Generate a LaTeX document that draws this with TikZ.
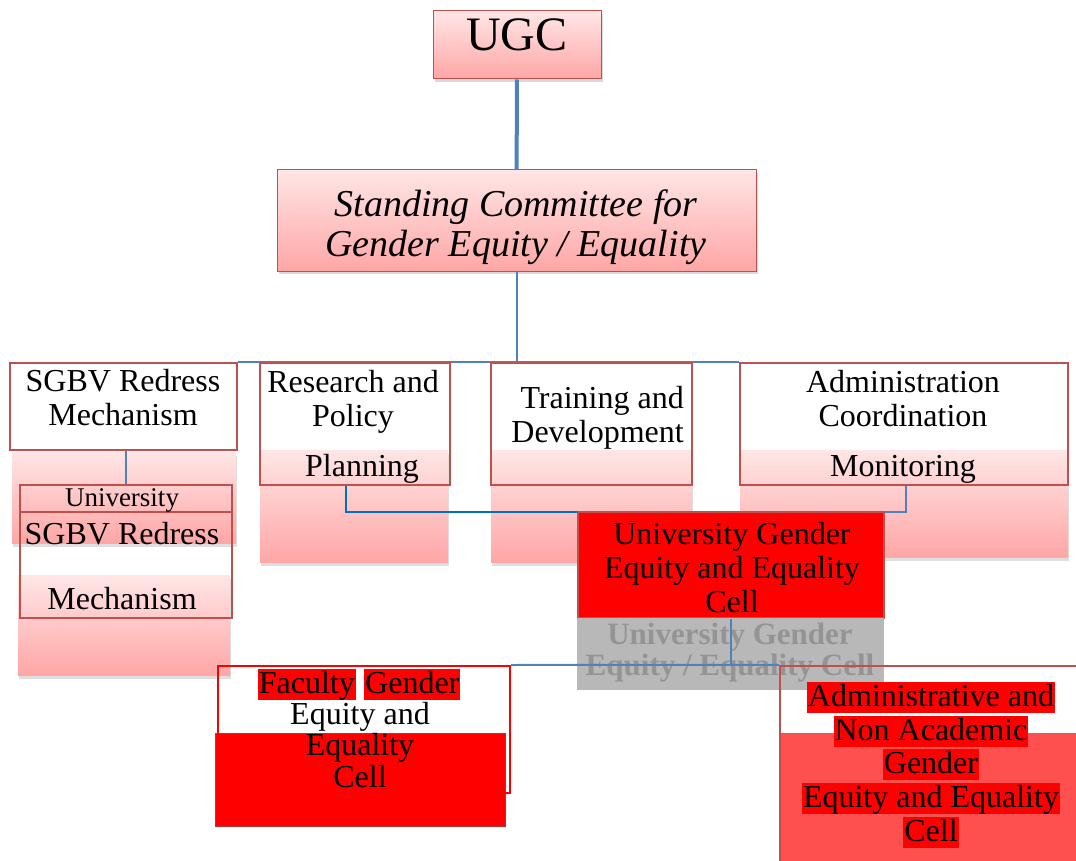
\documentclass[tikz,border=0pt]{standalone}
\usepackage{fontspec}
\setmainfont{Liberation Serif}
\usetikzlibrary{shadows,backgrounds}

\definecolor{accent}{HTML}{C0504D}
\definecolor{linkblue}{HTML}{4F81BD}
\definecolor{brightblue}{HTML}{0070C0}
\definecolor{pinktop}{HTML}{FFE6E6}
\definecolor{pinkbot}{HTML}{FFA6A6}
\definecolor{cellred}{HTML}{FF0000}
\definecolor{softred}{HTML}{FF5050}
\definecolor{ghostfill}{HTML}{B8B8B8}
\definecolor{ghosttext}{HTML}{949494}

\newcommand{\cellfont}{\fontsize{32}{34}\selectfont}

\begin{document}
\begin{tikzpicture}[x=1pt, y=-1pt,
    sized/.style 2 args={minimum width=#1pt, minimum height=#2pt, inner sep=0pt},
    pinkbox/.style={draw=accent, line width=1pt, top color=pinktop, bottom color=pinkbot,
        drop shadow={shadow xshift=2pt, shadow yshift=-3pt, opacity=0.3}},
    backbox/.style={top color=pinktop, bottom color=pinkbot,
        drop shadow={shadow xshift=1pt, shadow yshift=-4pt, opacity=0.25}},
    frame/.style={draw=accent, line width=2.5pt},
    redframe/.style={draw=cellred, line width=2pt},
    redcell/.style={draw=accent, line width=2.5pt, fill=cellred},
    txt/.style={font=\cellfont, align=center, inner sep=0pt},
    hl/.style={fill=cellred, font=\cellfont, inner xsep=1pt, inner ysep=0pt,
        text height=24pt, text depth=7pt, anchor=base},
    link/.style={draw=linkblue, line width=2pt}
]
    \useasboundingbox (0,0) rectangle (1076,861);

    % UGC and standing committee
    \node[pinkbox, sized={168}{68}] (ugc) at (517,45) {};
    \node[font=\fontsize{48}{50}\selectfont, inner sep=0pt] (ugctext) at (517,35) {UGC};
    \node[pinkbox, sized={479}{101}] (standing) at (516.5,220.5) {};
    \node[txt, font=\fontsize{38}{40}\selectfont\itshape] (standingtext) at (516,227)
        {Standing Committee for\\Gender Equity / Equality};
    \draw[link, line width=4pt] (ugc) -- (standing);

    % pink blocks behind the committees
    \node[backbox, sized={224}{91}] (sgbvback) at (124,497.5) {};
    \node[backbox, sized={188}{112}] (researchback) at (354,506) {};
    \node[backbox, sized={201}{112}] (trainingback) at (591.5,506) {};
    \node[backbox, sized={328}{107}] (adminback) at (904,503.5) {};
    \node[backbox, sized={212}{100}] (univback) at (124,625) {};

    % committees
    \node[frame, sized={227}{87}] (sgbv) at (123.5,406.5) {};
    \node[frame, sized={190}{122}] (research) at (355,424) {};
    \node[frame, sized={201}{122}] (training) at (591.5,424) {};
    \node[frame, sized={328}{122}] (admin) at (904,424) {};
    \node[txt] (sgbvtext) at (123,398) {SGBV Redress\\Mechanism};
    \node[txt] (researchtext) at (353,402) {Research and\\Policy};
    \node[txt] (planning) at (362,469) {Planning};
    \node[txt, align=right, anchor=east] (trainingtext) at (684,418) {Training and\\Development};
    \node[txt] (admintext) at (903,399) {Administration\\Coordination};
    \node[txt] (monitoring) at (903,469) {Monitoring};

    \node[frame, sized={212}{27}] (univtop) at (126,498.5) {};
    \node[frame, sized={212}{106}] (univ) at (126,565) {};
    \node[txt, font=\fontsize{27}{28}\selectfont] (univtext) at (122,500) {University};
    \node[txt] (univsgbv) at (122,533.5) {SGBV Redress};
    \node[txt] (univmech) at (122,598.5) {Mechanism};

    \begin{scope}[on background layer]
        \draw[link] (sgbv.north east) -- (admin.north west);
        \draw[link] (standing.south) -- (standing.south |- admin.north);
    \end{scope}
    \draw[link] (sgbv.south -| univ.north) -- (univtop.north);

    % university cell
    \draw[link, draw=brightblue] ([xshift=-9pt]research.south) |- (578,512);
    \draw[link] ([xshift=2pt]admin.south) |- (884,512);
    \node[redcell, sized={306}{106}] (ugec) at (731,565) {};
    \node[txt] (ugectext) at (732,568) {University Gender\\Equity and Equality\\Cell};
    \node[fill=ghostfill, sized={307}{72}] (ghost) at (730.5,654) {};
    \node[txt, text=ghosttext, font=\fontsize{31}{31}\selectfont\bfseries] (ghosttext) at (730,653)
        {University Gender\\Equity / Equality Cell};

    % faculty and administrative cells
    \node[fill=cellred, draw=accent!80!black, line width=0.5pt, sized={290}{93},
        drop shadow={shadow xshift=1pt, shadow yshift=-2pt, opacity=0.2}] (facultyfill) at (360,779.5) {};
    \node[redframe, sized={292}{127}] (faculty) at (364,729.5) {};
    \node[fill=softred, sized={298}{130}] (nonacadfill) at (929,798) {};
    \node[frame, sized={300}{199}] (nonacad) at (930,765.5) {};

    \draw[link] (ugec.south) -- (ugec.south |- faculty.north);
    \draw[link] (faculty.north east) -- (nonacad.north west);

    \node[hl, anchor=base east] (facultyword) at (356,693) {Faculty};
    \node[hl, anchor=base west] (genderword) at (364,693) {Gender};
    \node[txt, anchor=base] (facultyl2) at (360,724) {Equity and};
    \node[txt, anchor=base] (facultyl3) at (360,755) {Equality};
    \node[txt, anchor=base] (facultyl4) at (360,787) {Cell};

    \node[hl] (nonacadl1) at (931,706) {Administrative and};
    \node[hl] (nonacadl2) at (931,740) {Non Academic};
    \node[hl] (nonacadl3) at (931,773) {Gender};
    \node[hl] (nonacadl4) at (931,807) {Equity and Equality};
    \node[hl] (nonacadl5) at (931,841) {Cell};
\end{tikzpicture}
\end{document}
